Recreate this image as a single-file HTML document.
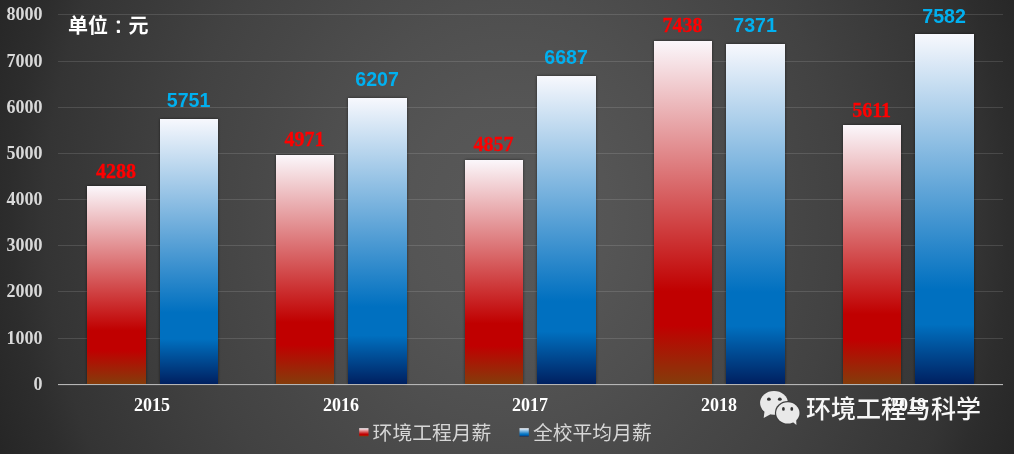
<!DOCTYPE html>
<html lang="zh"><head><meta charset="utf-8"><title>chart</title>
<style>
html,body{margin:0;padding:0;background:#3a3a3a;}
body{width:1014px;height:454px;overflow:hidden;font-family:"Liberation Sans",sans-serif;}
svg{display:block;will-change:transform}
.ax{font-family:"Liberation Serif",serif;font-weight:bold;font-size:18px;}
.rl{font-family:"Liberation Serif",serif;font-weight:bold;font-size:20px;fill:#ff0000;stroke:#ff0000;stroke-width:0.3px;text-anchor:middle}
.bl{font-family:"Liberation Sans",sans-serif;font-weight:bold;font-size:19.6px;fill:#00b0f0;text-anchor:middle}
</style></head><body>
<svg width="1014" height="454" viewBox="0 0 1014 454">
<defs>
<radialGradient id="bg" gradientUnits="userSpaceOnUse" cx="510" cy="216" r="560" gradientTransform="translate(510 216) scale(1 1.14) translate(-510 -216)">
<stop offset="0" stop-color="#595959"/><stop offset="0.18" stop-color="#555555"/><stop offset="0.32" stop-color="#4f4f4f"/><stop offset="0.48" stop-color="#474747"/><stop offset="0.59" stop-color="#424242"/><stop offset="0.83" stop-color="#343434"/><stop offset="0.89" stop-color="#2d2d2d"/><stop offset="0.98" stop-color="#262626"/><stop offset="1" stop-color="#252525"/>
</radialGradient>
<linearGradient id="gr" x1="0" y1="0" x2="0" y2="1">
<stop offset="0" stop-color="#fbf7fb"/><stop offset="0.73" stop-color="#c00000"/><stop offset="0.83" stop-color="#c00000"/><stop offset="1" stop-color="#843c0b"/>
</linearGradient>
<linearGradient id="gb" x1="0" y1="0" x2="0" y2="1">
<stop offset="0" stop-color="#f7f8fd"/><stop offset="0.73" stop-color="#0070c0"/><stop offset="0.83" stop-color="#0070c0"/><stop offset="1" stop-color="#002060"/>
</linearGradient>
<filter id="sh" x="-5%" y="-5%" width="110%" height="110%"><feGaussianBlur stdDeviation="1.6"/></filter>
</defs>
<rect width="1014" height="454" fill="url(#bg)"/>
<rect x="58.0" y="338" width="945" height="1" fill="#ffffff" fill-opacity="0.125"/>
<rect x="58.0" y="291" width="945" height="1" fill="#ffffff" fill-opacity="0.125"/>
<rect x="58.0" y="245" width="945" height="1" fill="#ffffff" fill-opacity="0.125"/>
<rect x="58.0" y="199" width="945" height="1" fill="#ffffff" fill-opacity="0.125"/>
<rect x="58.0" y="153" width="945" height="1" fill="#ffffff" fill-opacity="0.125"/>
<rect x="58.0" y="107" width="945" height="1" fill="#ffffff" fill-opacity="0.125"/>
<rect x="58.0" y="61" width="945" height="1" fill="#ffffff" fill-opacity="0.125"/>
<rect x="58.0" y="14" width="945" height="1" fill="#ffffff" fill-opacity="0.125"/>
<text class="ax" x="42.6" y="389.8" text-anchor="end" fill="#d9d9d9">0</text>
<text class="ax" x="42.6" y="343.8" text-anchor="end" fill="#d9d9d9">1000</text>
<text class="ax" x="42.6" y="296.8" text-anchor="end" fill="#d9d9d9">2000</text>
<text class="ax" x="42.6" y="250.8" text-anchor="end" fill="#d9d9d9">3000</text>
<text class="ax" x="42.6" y="204.8" text-anchor="end" fill="#d9d9d9">4000</text>
<text class="ax" x="42.6" y="158.8" text-anchor="end" fill="#d9d9d9">5000</text>
<text class="ax" x="42.6" y="112.8" text-anchor="end" fill="#d9d9d9">6000</text>
<text class="ax" x="42.6" y="66.8" text-anchor="end" fill="#d9d9d9">7000</text>
<text class="ax" x="42.6" y="19.8" text-anchor="end" fill="#d9d9d9">8000</text>
<g filter="url(#sh)" fill="#000" fill-opacity="0.55">
<rect x="87" y="186" width="59" height="198"/>
<rect x="160" y="119" width="58" height="265"/>
<rect x="276" y="155" width="58" height="229"/>
<rect x="348" y="98" width="59" height="286"/>
<rect x="465" y="160" width="58" height="224"/>
<rect x="537" y="76" width="59" height="308"/>
<rect x="654" y="41" width="58" height="343"/>
<rect x="726" y="44" width="59" height="340"/>
<rect x="843" y="125" width="58" height="259"/>
<rect x="915" y="34" width="59" height="350"/>
</g>
<rect x="87" y="186" width="59" height="198" fill="url(#gr)"/>
<rect x="160" y="119" width="58" height="265" fill="url(#gb)"/>
<rect x="276" y="155" width="58" height="229" fill="url(#gr)"/>
<rect x="348" y="98" width="59" height="286" fill="url(#gb)"/>
<rect x="465" y="160" width="58" height="224" fill="url(#gr)"/>
<rect x="537" y="76" width="59" height="308" fill="url(#gb)"/>
<rect x="654" y="41" width="58" height="343" fill="url(#gr)"/>
<rect x="726" y="44" width="59" height="340" fill="url(#gb)"/>
<rect x="843" y="125" width="58" height="259" fill="url(#gr)"/>
<rect x="915" y="34" width="59" height="350" fill="url(#gb)"/>
<rect x="58.0" y="384" width="945" height="1.1" fill="#b6b6b6"/>
<text class="rl" x="116.1" y="177.9">4288</text>
<text class="bl" x="188.6" y="106.9">5751</text>
<text class="ax" x="152" y="411.2" text-anchor="middle" fill="#ffffff">2015</text>
<text class="rl" x="304.6" y="146.1">4971</text>
<text class="bl" x="377.1" y="85.9">6207</text>
<text class="ax" x="341" y="411.2" text-anchor="middle" fill="#ffffff">2016</text>
<text class="rl" x="493.6" y="151.2">4857</text>
<text class="bl" x="566.1" y="63.9">6687</text>
<text class="ax" x="530" y="411.2" text-anchor="middle" fill="#ffffff">2017</text>
<text class="rl" x="682.6" y="32.3">7438</text>
<text class="bl" x="755.1" y="31.9">7371</text>
<text class="ax" x="719" y="411.2" text-anchor="middle" fill="#ffffff">2018</text>
<text class="rl" x="871.6" y="117.2">5611</text>
<text class="bl" x="944.1" y="22.9">7582</text>
<text class="ax" x="908" y="411.2" text-anchor="middle" fill="#ffffff">2019</text>
<text x="68" y="32.5" font-family='"Liberation Sans", "Noto Sans CJK SC", sans-serif' font-weight="bold" font-size="20px" fill="#ffffff">单位</text>
<text x="128.4" y="32.5" font-family='"Liberation Sans", "Noto Sans CJK SC", sans-serif' font-weight="bold" font-size="20px" fill="#ffffff">元</text>
<rect x="116.8" y="20.4" width="3.2" height="3.2" rx="0.8" fill="#fff"/><rect x="116.8" y="29.8" width="3.2" height="3.2" rx="0.8" fill="#fff"/>
<rect x="359.2" y="428.2" width="9.3" height="8.2" fill="url(#gr)"/>
<text x="372.6" y="440.3" font-family='"Liberation Sans", "Noto Sans CJK SC", sans-serif' font-size="19.8px" fill="#d6d6d6">环境工程月薪</text>
<rect x="519.5" y="428.2" width="9.3" height="8.2" fill="url(#gb)"/>
<text x="533" y="440.3" font-family='"Liberation Sans", "Noto Sans CJK SC", sans-serif' font-size="19.8px" fill="#d6d6d6">全校平均月薪</text>
<text x="806" y="417.5" font-family='"Liberation Sans", "Noto Sans CJK SC", sans-serif' font-size="25px" font-weight="500" fill="#f6f6f6">环境工程与科学</text>
<g fill="#e9e9e9">
<ellipse cx="774" cy="402.9" rx="13.9" ry="11.8"/>
<path d="M764.6 410.500L763.700 418 770.500 414.200z"/>
<ellipse cx="787.8" cy="412.9" rx="12.9" ry="11.8" fill="#3e3e3e"/>
<ellipse cx="787.8" cy="412.9" rx="11.700" ry="10.600"/>
<path d="M792.500 421.700L796.400 424.900 796.200 419.500z"/>
</g>
<g fill="#333"><ellipse cx="768.9" cy="399.2" rx="1.900" ry="1.600"/><ellipse cx="779.8" cy="399.2" rx="1.900" ry="1.600"/><ellipse cx="783.4" cy="408.9" rx="1.400" ry="1.900"/><ellipse cx="791.8" cy="408.9" rx="1.400" ry="1.900"/></g>
</svg></body></html>
